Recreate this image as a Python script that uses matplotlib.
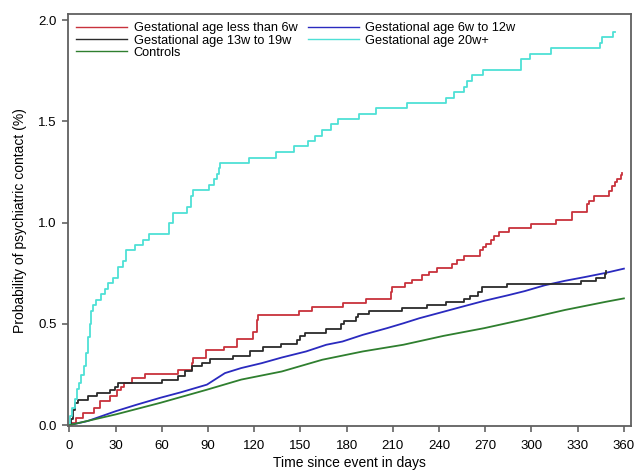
import matplotlib
matplotlib.use("Agg")
from matplotlib import pyplot as plt

plt.rcParams["font.family"] = ["Liberation Sans", "DejaVu Sans"]

# Kaplan-Meier style cumulative curves (days, % with psychiatric contact)
less6_days = [0, 1.5, 4.2, 9, 16, 19.8, 26.3, 30.7, 33.3, 35.4,
              40.8, 49.1, 70.7, 79.4, 80.5, 88.7, 100.4, 108.6, 119.5, 121.6,
              122.5, 148.9, 157.2, 177.5, 192.7, 208.5, 209.6, 218.2, 222.6, 229.1,
              233.4, 238.8, 248.1, 251.8, 256.1, 266.3, 268.5, 270.2, 273.5, 275.6,
              278.9, 285.4, 299.5, 316.1, 326.1, 336.3, 337.4, 340.6, 350.3, 352.1,
              354, 355.8, 358, 359]
less6_vals = [0, 0.012, 0.036, 0.061, 0.085, 0.118, 0.143, 0.175, 0.189, 0.208,
              0.233, 0.254, 0.274, 0.306, 0.331, 0.369, 0.388, 0.425, 0.462, 0.519,
              0.544, 0.565, 0.585, 0.605, 0.621, 0.659, 0.68, 0.70, 0.716, 0.74,
              0.757, 0.778, 0.798, 0.818, 0.834, 0.863, 0.88, 0.896, 0.913, 0.932,
              0.953, 0.973, 0.994, 1.014, 1.052, 1.093, 1.109, 1.13, 1.158, 1.183,
              1.20, 1.216, 1.237, 1.245]

w6_12_days = [0, 11.8, 30.2, 43.3, 59, 72.3, 89.3, 101, 111.6, 124.8,
              137.9, 153.7, 166.8, 177.3, 190.5, 206.2, 216.8, 227.2, 240.4, 253.5,
              269.3, 285, 295.6, 308.7, 321.8, 335, 348.1, 360]
w6_12_vals = [0, 0.02, 0.069, 0.10, 0.135, 0.162, 0.2, 0.257, 0.282, 0.306,
              0.334, 0.364, 0.397, 0.413, 0.446, 0.479, 0.503, 0.528, 0.555, 0.582,
              0.614, 0.642, 0.662, 0.691, 0.713, 0.732, 0.752, 0.773]

w13_19_days = [0, 1, 2.1, 3.6, 5.8, 12.3, 17.7, 26.3, 29.6, 31.8,
               59.9, 70.7, 75, 79.4, 85.9, 91.3, 106.5, 117.3, 126, 137.7,
               147.8, 150, 152.8, 166.7, 176.6, 178.5, 185.8, 187.5, 194.4, 216,
               232.3, 244.2, 256.1, 259.8, 265.4, 268, 284.3, 332, 341.7, 347.5,
               348.5]
w13_19_vals = [0, 0.03, 0.077, 0.11, 0.126, 0.143, 0.159, 0.172, 0.189, 0.208,
               0.225, 0.241, 0.265, 0.29, 0.306, 0.326, 0.342, 0.364, 0.385, 0.401,
               0.421, 0.44, 0.457, 0.474, 0.50, 0.515, 0.533, 0.549, 0.565, 0.58,
               0.593, 0.609, 0.623, 0.639, 0.66, 0.683, 0.696, 0.713, 0.729, 0.749,
               0.76]

w20_days = [0, 0.6, 2, 3.4, 4.9, 6.4, 7.7, 9.2, 10.7, 12,
            13.5, 14.2, 15.5, 17.5, 20.3, 23.3, 24.8, 28.3, 31.5, 34.6,
            37, 42.8, 47.8, 51.5, 64.5, 67.3, 76.3, 78.8, 80.3, 90.9,
            93.9, 96, 97, 97.8, 116.9, 134, 145.8, 155, 159.7, 164.2,
            170, 174.7, 187.8, 198.9, 219.4, 244.3, 249.6, 256, 258.2, 261.4,
            268.8, 292.9, 299, 312.7, 344.2, 346, 352.8, 354]
w20_vals = [0, 0.044, 0.085, 0.13, 0.18, 0.21, 0.25, 0.29, 0.356, 0.437,
            0.50, 0.565, 0.595, 0.618, 0.647, 0.673, 0.703, 0.729, 0.781, 0.811,
            0.863, 0.889, 0.916, 0.945, 0.998, 1.05, 1.08, 1.132, 1.16, 1.188,
            1.214, 1.243, 1.27, 1.296, 1.322, 1.35, 1.378, 1.404, 1.43, 1.46,
            1.486, 1.513, 1.538, 1.565, 1.59, 1.618, 1.648, 1.672, 1.699, 1.728,
            1.754, 1.809, 1.835, 1.862, 1.889, 1.915, 1.94, 1.94]

control_days = [0, 30.2, 59, 89.3, 111.6, 137.9, 164.2, 190.5, 216.8, 243,
                269.3, 295.6, 321.8, 348.1, 360]
control_vals = [0, 0.053, 0.11, 0.175, 0.225, 0.265, 0.323, 0.364, 0.397, 0.441,
                0.479, 0.523, 0.569, 0.609, 0.626]

x_ticks = list(range(0, 361, 30))
y_ticks = [0.0, 0.5, 1.0, 1.5, 2.0]

fig = plt.figure(figsize=(6.34, 4.74), dpi=100)
ax = fig.add_axes([0.107, 0.101, 0.888, 0.869])

lw = 1.3
h1, = ax.step(less6_days, less6_vals, where="post", color="#c8323c", lw=lw,
              label="Gestational age less than 6w")
h2, = ax.plot(w6_12_days, w6_12_vals, color="#2a2abf", lw=lw,
              label="Gestational age 6w to 12w")
h3, = ax.step(w13_19_days, w13_19_vals, where="post", color="#2b2b2b", lw=lw,
              label="Gestational age 13w to 19w")
h4, = ax.step(w20_days, w20_vals, where="post", color="#4ee0d6", lw=lw,
              label="Gestational age 20w+")
h5, = ax.plot(control_days, control_vals, color="#2f7f2f", lw=lw,
              label="Controls")

ax.set_xlim(-1, 364.5)
ax.set_ylim(-0.005, 2.03)
ax.set_xticks(x_ticks)
ax.set_yticks(y_ticks)
ax.set_yticklabels([f"{v:.1f}" for v in y_ticks])
ax.tick_params(labelsize=9.5, length=4, width=1.1, color="#555555")
ax.tick_params(axis="x", pad=6)
ax.tick_params(axis="y", pad=4)

for sp in ax.spines.values():
    sp.set_color("#606060")
    sp.set_linewidth(1.3)

ax.set_xlabel("Time since event in days", fontsize=10, labelpad=3)
ax.set_ylabel("Probability of psychiatric contact (%)", fontsize=10, labelpad=8)

leg = ax.legend(handles=[h1, h3, h5, h2, h4], ncol=2, loc="upper left",
                bbox_to_anchor=(0.015, 0.98), frameon=False, fontsize=9.2,
                borderpad=0, borderaxespad=0, labelspacing=0.02,
                handlelength=4.0, handletextpad=0.5, columnspacing=0.8)
for line in leg.get_lines():
    line.set_linewidth(1.0)

fig.savefig("out.png", dpi=100)
